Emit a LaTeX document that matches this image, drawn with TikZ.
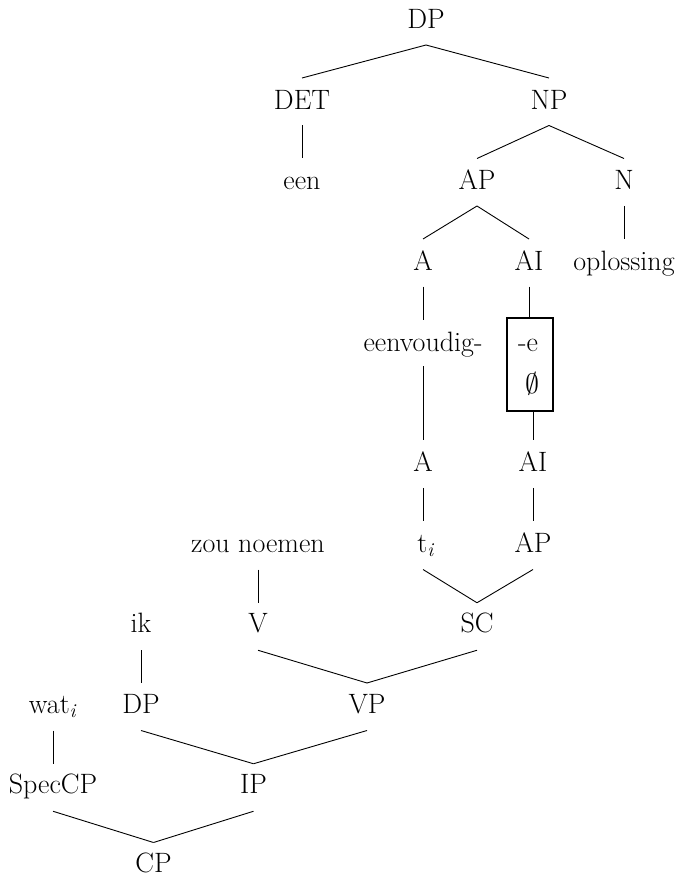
\documentclass[tikz,border=0pt]{standalone}
\usepackage{fix-cm}
\tikzset{
  lbl/.style={inner sep=0pt, anchor=base, font=\fontsize{28}{34}\selectfont},
  edge/.style={line width=0.9pt, line cap=butt},
  boxst/.style={draw, line width=1.6pt, minimum width=46pt, minimum height=93pt, inner sep=0pt}
}
\begin{document}
\begin{tikzpicture}[x=1pt,y=-1pt]
\useasboundingbox (0,0) rectangle (686,877);
% upper tree
\node[lbl] (dp0) at (426,29) {DP};
\node[lbl] (det) at (302,109.5) {DET};
\node[lbl] (np) at (549,109.5) {NP};
\node[lbl] (een) at (302,190) {een};
\node[lbl] (ap1) at (477,190) {AP};
\node[lbl] (n) at (624,190) {N};
\node[lbl] (a1) at (423,270.5) {A};
\node[lbl] (ai1) at (529,270.5) {AI};
\node[lbl] (opl) at (624,270.5) {oplossing};
\node[lbl] (eenv) at (423,351) {eenvoudig-};
\node[boxst] (box) at (530,364.5) {};
\node[lbl] (suffe) at (528,351) {-e};
\node[lbl] (nul) at (532,393) {$\emptyset$};
\node[lbl] (a2) at (423,471.75) {A};
\node[lbl] (ai2) at (533,471.75) {AI};
% lower tree
\node[lbl] (zou) at (258,552) {zou noemen};
\node[lbl] (ti) at (426,552) {t\textsubscript{\textit{i}}};
\node[lbl] (ap2) at (533,552) {AP};
\node[lbl] (ik) at (141,632.75) {ik};
\node[lbl] (v) at (258,632.75) {V};
\node[lbl] (sc) at (477,632.75) {SC};
\node[lbl] (wat) at (53,713) {wat\textsubscript{\textit{i}}};
\node[lbl] (dp2) at (141,713) {DP};
\node[lbl] (vp) at (367,713) {VP};
\node[lbl] (spec) at (53,793.75) {SpecCP};
\node[lbl] (ip) at (253.5,793.75) {IP};
\node[lbl] (cp) at (153.5,872.5) {CP};
% upper edges: parent -> child
\draw[edge] ([yshift=-16pt]dp0.base) -- ([yshift=31.5pt]det.base);
\draw[edge] ([yshift=-16pt]dp0.base) -- ([yshift=31.5pt]np.base);
\draw[edge] ([yshift=-16pt]det.base) -- ([yshift=31.5pt]een.base);
\draw[edge] ([yshift=-16pt]np.base) -- ([yshift=31.5pt]ap1.base);
\draw[edge] ([yshift=-16pt]np.base) -- ([yshift=31.5pt]n.base);
\draw[edge] ([yshift=-16pt]ap1.base) -- ([yshift=31.5pt]a1.base);
\draw[edge] ([yshift=-16pt]ap1.base) -- ([yshift=31.5pt]ai1.base);
\draw[edge] ([yshift=-16pt]n.base) -- ([yshift=31.5pt]opl.base);
\draw[edge] ([yshift=-16pt]a1.base) -- ([yshift=31.5pt]eenv.base);
\draw[edge] ([yshift=-16pt]ai1.base) -- (box.north -| ai1.base);
\draw[edge] ([yshift=-15pt]eenv.base) -- ([yshift=31.5pt]a2.base);
\draw[edge] (box.south -| ai2.base) -- ([yshift=31.5pt]ai2.base);
\draw[edge] ([yshift=-16pt]a2.base) -- ([xshift=-3pt,yshift=31.5pt]ti.base);
\draw[edge] ([yshift=-16pt]ai2.base) -- ([yshift=31.5pt]ap2.base);
% lower edges: child -> parent
\draw[edge] ([xshift=-3pt,yshift=-17.5pt]ti.base) -- ([yshift=30pt]sc.base);
\draw[edge] ([yshift=-17.5pt]ap2.base) -- ([yshift=30pt]sc.base);
\draw[edge] ([yshift=-17.5pt]zou.base) -- ([yshift=30pt]v.base);
\draw[edge] ([yshift=-17.5pt]v.base) -- ([yshift=30pt]vp.base);
\draw[edge] ([yshift=-17.5pt]sc.base) -- ([yshift=30pt]vp.base);
\draw[edge] ([yshift=-17.5pt]ik.base) -- ([yshift=30pt]dp2.base);
\draw[edge] ([yshift=-17.5pt]dp2.base) -- ([yshift=30pt]ip.base);
\draw[edge] ([yshift=-17.5pt]vp.base) -- ([yshift=30pt]ip.base);
\draw[edge] ([yshift=-17.5pt]wat.base) -- ([yshift=30pt]spec.base);
\draw[edge] ([yshift=-17.5pt]spec.base) -- ([yshift=30pt]cp.base);
\draw[edge] ([yshift=-17.5pt]ip.base) -- ([yshift=30pt]cp.base);
\end{tikzpicture}
\end{document}
